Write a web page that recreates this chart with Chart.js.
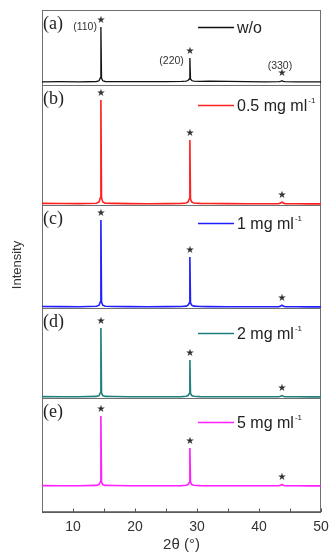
<!DOCTYPE html>
<html>
<head>
<meta charset="utf-8">
<script src="https://cdn.jsdelivr.net/npm/chart.js@4.4.1/dist/chart.umd.min.js"></script>
<style>
  html, body { margin: 0; padding: 0; background: #fff; }
  #wrap { width: 330px; height: 556px; }
</style>
</head>
<body>
<div id="wrap"><canvas id="xrd"></canvas></div>
<script>
// 2θ (deg), shared by every pattern
const twoTheta = [5, 8, 11, 13.8, 14.2, 14.4, 14.5, 14.6, 14.8, 15.2,
  16.5, 19, 22, 25, 27.5, 28.25, 28.55, 28.75, 28.85, 28.95,
  29.15, 29.45, 30.5, 32, 35, 38, 41, 43.2, 43.5, 43.7,
  43.9, 44.2, 46, 48, 50];

// intensities (a.u.), one list per sample
const intWo = [0.2, 0.3, 0.2, 0.5, 1.2, 4, 55, 4, 1.2, 0.5,
  0.4, 0.3, 0.3, 0.4, 0.6, 0.8, 1.5, 3, 24, 3,
  1.5, 0.9, 0.7, 0.9, 0.6, 0.3, 0.2, 0.3, 0.6, 1.3,
  0.6, 0.3, 0.2, 0.1, 0.1];
const int05 = [0.6, 0.5, 0.4, 0.8, 2, 6, 104, 6, 2, 0.8,
  0.6, 0.4, 0.3, 0.4, 0.6, 1.0, 2, 5, 64, 5,
  2, 1.0, 0.6, 0.5, 0.4, 0.3, 0.2, 0.4, 1.0, 2.0,
  1.0, 0.4, 0.2, 0.1, 0.1];
const int1 = [0.5, 0.4, 0.3, 0.7, 1.8, 5, 87, 5, 1.8, 0.7,
  0.5, 0.4, 0.3, 0.4, 0.5, 0.9, 1.8, 4, 50, 4,
  1.8, 0.9, 0.5, 0.4, 0.3, 0.3, 0.2, 0.3, 0.9, 1.8,
  0.9, 0.3, 0.2, 0.1, 0.1];
const int2 = [0.4, 0.3, 0.3, 0.6, 1.5, 4, 69, 4, 1.5, 0.6,
  0.5, 0.3, 0.3, 0.3, 0.4, 0.8, 1.5, 3.5, 37, 3.5,
  1.5, 0.8, 0.4, 0.3, 0.3, 0.2, 0.2, 0.3, 0.7, 1.4,
  0.7, 0.3, 0.2, 0.1, 0.1];
const int5 = [0.4, 0.3, 0.3, 0.6, 1.5, 4, 70, 4, 1.5, 0.6,
  0.5, 0.3, 0.3, 0.3, 0.4, 0.8, 1.5, 3.5, 38, 3.5,
  1.5, 0.8, 0.4, 0.3, 0.3, 0.2, 0.2, 0.3, 0.7, 1.5,
  0.7, 0.3, 0.2, 0.1, 0.1];

const sampleLabels = ['w/o', '0.5 mg ml⁻¹', '1 mg ml⁻¹', '2 mg ml⁻¹', '5 mg ml⁻¹'];
const panelTags = ['(a)', '(b)', '(c)', '(d)', '(e)'];
const peakPositions = [14.5, 28.85, 43.7];
const peakIndices = ['(110)', '(220)', '(330)'];
const xTicks = [10, 20, 30, 40, 50];
const xMinorTicks = [15, 25, 35, 45];

// y range of each stacked panel
const panelMin = [-3, -1, -1, -1, -26];
const panelMax = [72, 119, 102, 89, 88];

const series = [intWo, int05, int1, int2, int5];
const colors = ['#111111', '#ff1f1f', '#1f1fff', '#1f7f7b', '#ff1fff'];
const panelKeys = ['ya', 'yb', 'yc', 'yd', 'ye'];

const SANS = '"Liberation Sans", Arial, sans-serif';
const SERIF = '"Liberation Serif", "Times New Roman", serif';

const scales = {
  x: {
    type: 'linear',
    position: 'bottom',
    min: 5,
    max: 50,
    grid: { display: false, drawTicks: false, tickLength: 0 },
    border: { display: false },
    afterBuildTicks: s => { s.ticks = xTicks.map(v => ({ value: v })); },
    ticks: { color: '#333', font: { family: SANS, size: 14 }, padding: 7, maxRotation: 0 },
    title: { display: true, text: '2θ (°)', color: '#333', font: { family: SANS, size: 15 }, padding: { top: 0, bottom: 2 } },
    afterFit: s => {
      s.height = 44;
      // let the "50" label hang into the right margin
      s.paddingRight = 0;
      s.paddingLeft = 0;
    }
  }
};
// left stack is laid out from the last defined scale down, so add (e) first
panelKeys.slice().reverse().forEach(key => {
  const i = panelKeys.indexOf(key);
  scales[key] = {
    type: 'linear',
    position: 'left',
    stack: 'panels',
    stackWeight: panelMax[i] - panelMin[i],
    min: panelMin[i],
    max: panelMax[i],
    grid: { display: false, drawTicks: false },
    border: { display: false },
    ticks: { display: false },
    afterFit: s => { s.width = 42; }
  };
});

const datasets = series.map((vals, i) => ({
  label: sampleLabels[i],
  yAxisID: panelKeys[i],
  data: twoTheta.map((x, j) => ({ x: x, y: vals[j] })),
  borderColor: colors[i],
  borderWidth: i === 0 ? 1.3 : 1.6,
  pointRadius: 0,
  tension: 0,
  fill: false
}));

// legend row offset from the top of each panel (px)
const legendDy = [17, 20, 18, 25, 24];

const panelDecor = {
  id: 'panelDecor',
  beforeDatasetsDraw(chart) {
    const { ctx, chartArea: a, scales: sc } = chart;
    ctx.save();
    ctx.strokeStyle = '#707070';
    ctx.lineWidth = 1;
    panelKeys.forEach(k => {
      const s = sc[k];
      ctx.strokeRect(a.left + 0.5, Math.round(s.top) + 0.5, a.right - a.left - 1, Math.round(s.bottom - s.top));
    });
    // bottom axis with inward ticks
    ctx.strokeStyle = '#555';
    ctx.lineWidth = 1.5;
    ctx.beginPath();
    ctx.moveTo(a.left, a.bottom);
    ctx.lineTo(a.right, a.bottom);
    ctx.stroke();
    ctx.lineWidth = 1;
    xTicks.concat(xMinorTicks).forEach(v => {
      const px = Math.round(sc.x.getPixelForValue(v)) + 0.5;
      ctx.beginPath();
      ctx.moveTo(px, a.bottom);
      ctx.lineTo(px, a.bottom - 3.5);
      ctx.stroke();
    });
    ctx.restore();
  },
  afterDatasetsDraw(chart) {
    const { ctx, chartArea: a, scales: sc } = chart;
    ctx.save();
    panelKeys.forEach((k, i) => {
      const s = sc[k];
      // panel tag
      ctx.fillStyle = '#222';
      ctx.font = '18px ' + SERIF;
      ctx.textAlign = 'left';
      ctx.textBaseline = 'middle';
      ctx.fillText(panelTags[i], a.left + 1, s.top + 14);

      // legend
      const ly = Math.round(s.top + legendDy[i]) + 0.5;
      const lx = a.left + 156;
      ctx.strokeStyle = colors[i];
      ctx.lineWidth = 1.6;
      ctx.beginPath();
      ctx.moveTo(lx, ly);
      ctx.lineTo(lx + 36, ly);
      ctx.stroke();
      const parts = sampleLabels[i].split('⁻¹');
      ctx.fillStyle = '#222';
      ctx.font = '16px ' + SANS;
      ctx.fillText(parts[0], lx + 39, ly + 1);
      if (parts.length > 1) {
        const w = ctx.measureText(parts[0]).width;
        ctx.font = '8px ' + SANS;
        ctx.fillText('-1', lx + 40 + w, ly - 5);
      }

      // peak markers
      ctx.font = '10px "DejaVu Sans"';
      ctx.textAlign = 'center';
      ctx.fillStyle = '#333';
      peakPositions.forEach((p, n) => {
        const j = twoTheta.indexOf(p);
        const px = sc.x.getPixelForValue(p);
        const py = s.getPixelForValue(series[i][j]) - 7;
        ctx.fillText('★', px, py);
        if (i === 0) {
          ctx.font = '10.5px ' + SANS;
          if (n < 2) {
            ctx.textAlign = 'right';
            ctx.fillText(peakIndices[n], px - (n === 0 ? 4 : 6), py + (n === 0 ? 7 : 10));
          } else {
            ctx.textAlign = 'center';
            ctx.fillText(peakIndices[n], px - 2, py - 8);
          }
          ctx.font = '10px "DejaVu Sans"';
          ctx.textAlign = 'center';
        }
      });
    });

    // y title
    ctx.translate(17, 265);
    ctx.rotate(-Math.PI / 2);
    ctx.textAlign = 'center';
    ctx.textBaseline = 'middle';
    ctx.fillStyle = '#333';
    ctx.font = '13px ' + SANS;
    ctx.fillText('Intensity', 0, 0);
    ctx.restore();
  }
};

new Chart(document.getElementById('xrd'), {
  type: 'line',
  data: { datasets: datasets },
  options: {
    responsive: true,
    maintainAspectRatio: false,
    animation: false,
    layout: { padding: { top: 10, right: 9, left: 0, bottom: 0 } },
    scales: scales,
    plugins: {
      legend: { display: false },
      tooltip: { enabled: false }
    }
  },
  plugins: [panelDecor]
});
</script>
</body>
</html>
